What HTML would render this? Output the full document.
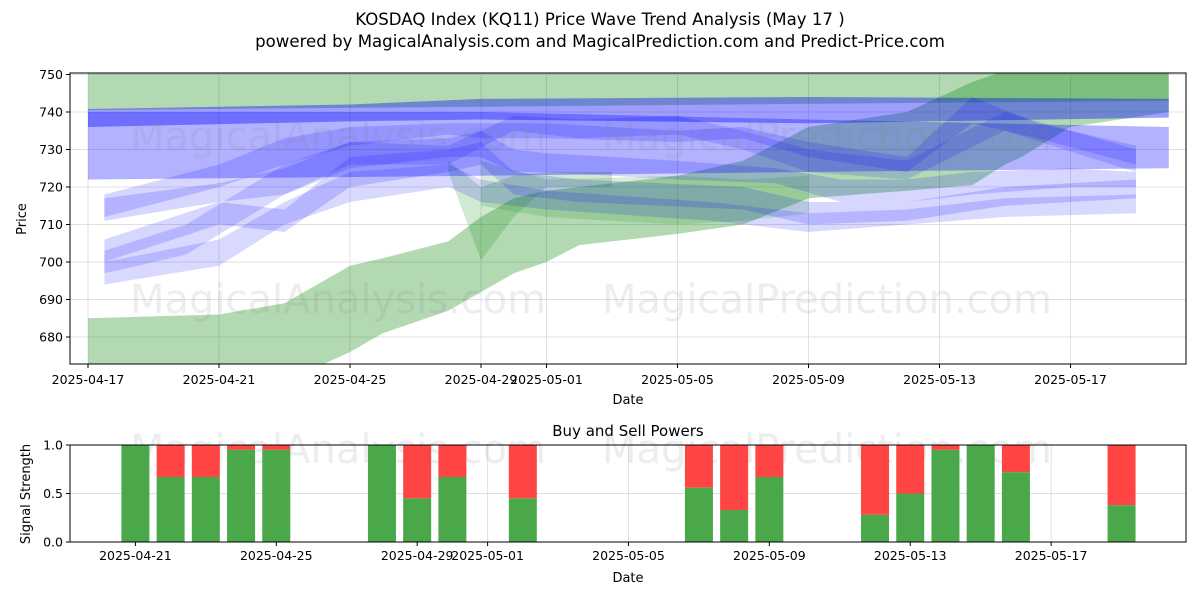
<!DOCTYPE html>
<html><head><meta charset="utf-8"><style>
body{margin:0;background:#fff;font-family:"Liberation Sans","DejaVu Sans",sans-serif}
svg text{font-family:"DejaVu Sans","Liberation Sans",sans-serif}
</style></head><body>
<svg id="c" width="1200" height="600" xmlns="http://www.w3.org/2000/svg">
<rect width="1200" height="600" fill="#fff"/>
<text x="600" y="25" text-anchor="middle" font-size="16.6">KOSDAQ Index (KQ11) Price Wave Trend Analysis (May 17 )</text>
<text x="600" y="47" text-anchor="middle" font-size="16.6">powered by MagicalAnalysis.com and MagicalPrediction.com and Predict-Price.com</text>
<defs><clipPath id="ct"><rect x="70" y="73" width="1116" height="291"/></clipPath></defs>
<g id="topg"></g><g id="botg"></g>
</svg>
<script>
// ---- data ----
const priceTicks=[680,690,700,710,720,730,740,750];
const dateTickDays=[0,4,8,12,14,18,22,26,30];
const dateTickLabels=["2025-04-17","2025-04-21","2025-04-25","2025-04-29","2025-05-01","2025-05-05","2025-05-09","2025-05-13","2025-05-17"];
const greenDays=[[0,33],[0,4,6,8,9,11,12,13,14,15,16,18,20,22,25,27,28,28.5,30,33],[11,12,13,14,16],[12,14,18,20,22]];
const greenUpper=[[752,752],[685,686,689,699,701,705.5,712,717,719,720,721,723,727,736,740,748,751,752,752,752],[727,720,723,724,724],[727,722,723,722,723]];
const greenLower=[[740.5,743],[660,660,668,676,681,687,692,697,700,704.5,705.5,707.5,710,717,719,720.5,726,728,736,740],[724,700.5,712,720,720],[715,712,710,711,713]];
const greenAlpha=[0.3,0.3,0.18,0.15];
const blueDays=[[0,8,12,22,33],[0,12,22,33],[0.5,4,6,8,11,12,13,14,18,21,23,25,27,30,32],[0.5,4,6,8,11,12,13,15,20,22,25,28,32],[0.5,4,6,8,11,12,14,19,22,25,28,32],[0.5,4,6,8,11,12,14,18,20,22,25,27,29,32],[0.5,3,6,8,11,13,15,18,20,22,25,28,32]];
const blueUpper=[[740.8,742,743.5,744,743.5],[740,740,738,736],[717,721,725,732,733,735,730,729,727,725,722,722,724,725,724],[706,716,714,728,730,732,724,722,720,716,716,720,722],[700,706,716,724,726,722,719,716,713,714,717,718],[718,726,733,736,737,737,737,735,736,732,728,744,737,731],[703,710,726,732,731,739,738,739,735,730,727,740,730]];
const blueLower=[[736,737.5,738,737,738.5],[722,723,724,725],[711,716,718,725,728,728,724,724,722,721,716,716,718,720,720],[700,710,708,720,724,726,718,716,714,710,711,715,717],[694,699,710,716,720,716,714,711,708,710,712,713],[712,720,726,731,734,733,733,732,733,728,724,737,733,726],[697,702,718,726,726,735,733,734,730,724,722,735,724]];
const blueAlpha=[0.38,0.3,0.16,0.16,0.15,0.16,0.15];
const barDays=[4,5,6,7,8,11,12,13,15,20,21,22,25,26,27,28,29,32];
const buyVals=[1.0,0.67,0.67,0.95,0.95,1.0,0.45,0.67,0.45,0.56,0.33,0.67,0.28,0.5,0.95,1.0,0.72,0.38];
const strengthTicks=[0,0.5,1];
const botTickDays=[4,8,12,14,18,22,26,30];
const botTickLabels=["2025-04-21","2025-04-25","2025-04-29","2025-05-01","2025-05-05","2025-05-09","2025-05-13","2025-05-17"];
// ---- axes ----
const NS="http://www.w3.org/2000/svg";
const T={l:70,r:1186,t:73,b:364},B={l:70,r:1186,t:445,b:542};
const xT=d=>88+d*32.75, yT=v=>337-(v-680)*3.75;
const xB=d=>135.4+(d-4)*35.22, yB=v=>542-v*97;
function el(tag,attrs,parent,txt){const e=document.createElementNS(NS,tag);for(const k in attrs)e.setAttribute(k,attrs[k]);if(txt!==undefined)e.textContent=txt;parent.appendChild(e);return e;}
const topG=document.getElementById('topg'),botG=document.getElementById('botg');
priceTicks.forEach(v=>{el('line',{x1:T.l,x2:T.r,y1:yT(v),y2:yT(v),stroke:'#e0e0e0'},topG);
 const t=el('text',{x:T.l-7,y:yT(v)+4.5,'text-anchor':'end','font-size':12.5},topG,v);
 
 
 el('line',{x1:T.l-4,x2:T.l,y1:yT(v),y2:yT(v),stroke:'#000'},topG);});
dateTickDays.forEach((d,i)=>{el('line',{x1:xT(d),x2:xT(d),y1:T.t,y2:T.b,stroke:'#e0e0e0'},topG);
 el('line',{x1:xT(d),x2:xT(d),y1:T.b,y2:T.b+4,stroke:'#000'},topG);
 const t=el('text',{x:xT(d),y:T.b+20,'text-anchor':'middle','font-size':12.5},topG,dateTickLabels[i]);
 
 });
const g=el('g',{'clip-path':'url(#ct)'},topG);
function band(days,up,lo,fill,op,name){let pts=days.map((d,i)=>xT(d)+','+yT(up[i]));for(let i=days.length-1;i>=0;i--)pts.push(xT(days[i])+','+yT(lo[i]));
 const p=el('polygon',{points:pts.join(' '),fill:fill,'fill-opacity':op},g);
 
 }
greenDays.forEach((d,i)=>band(d,greenUpper[i],greenLower[i],'#008000',greenAlpha[i],'green-wave-band'));
blueDays.forEach((d,i)=>band(d,blueUpper[i],blueLower[i],'#0000ff',blueAlpha[i],'blue-wave-band'));
[[130,150,'MagicalAnalysis.com'],[602,150,'MagicalPrediction.com'],[130,313,'MagicalAnalysis.com'],[602,313,'MagicalPrediction.com']].forEach(w=>{const t=el('text',{x:w[0],y:w[1],'font-size':40,fill:'#888','fill-opacity':0.15},topG,w[2]);
 
 });
el('rect',{x:T.l,y:T.t,width:T.r-T.l,height:T.b-T.t,fill:'none',stroke:'#000'},topG);
let t=el('text',{x:628,y:404,'text-anchor':'middle','font-size':13},topG,'Date');
t=el('text',{x:26,y:219,'text-anchor':'middle','font-size':13,transform:'rotate(-90 26 219)'},topG,'Price');
// bottom
t=el('text',{x:628,y:436,'text-anchor':'middle','font-size':15},botG,'Buy and Sell Powers');
botTickDays.forEach((d,i)=>{el('line',{x1:xB(d),x2:xB(d),y1:B.t,y2:B.b,stroke:'#e0e0e0'},botG);
 el('line',{x1:xB(d),x2:xB(d),y1:B.b,y2:B.b+4,stroke:'#000'},botG);
 const tt=el('text',{x:xB(d),y:B.b+18,'text-anchor':'middle','font-size':12.5},botG,botTickLabels[i]);
 
 });
strengthTicks.forEach(v=>{el('line',{x1:B.l,x2:B.r,y1:yB(v),y2:yB(v),stroke:'#e0e0e0'},botG);
 el('line',{x1:B.l-4,x2:B.l,y1:yB(v),y2:yB(v),stroke:'#000'},botG);
 const tt=el('text',{x:B.l-7,y:yB(v)+4.5,'text-anchor':'end','font-size':12.5},botG,v.toFixed(1));
 
 });
[[130,463,'MagicalAnalysis.com'],[602,463,'MagicalPrediction.com']].forEach(w=>{const tt=el('text',{x:w[0],y:w[1],'font-size':40,fill:'#888','fill-opacity':0.15},botG,w[2]);
 
 });
barDays.forEach((d,i)=>{const x=xB(d)-14,v=buyVals[i];
 const r=el('rect',{x:x,y:yB(1),width:28,height:yB(v)-yB(1),fill:'#ff4444'},botG);
 
 
 const gr=el('rect',{x:x,y:yB(v),width:28,height:yB(0)-yB(v),fill:'#4aa84a'},botG);
 
 });
el('rect',{x:B.l,y:B.t,width:B.r-B.l,height:B.b-B.t,fill:'none',stroke:'#000'},botG);
t=el('text',{x:628,y:582,'text-anchor':'middle','font-size':13},botG,'Date');
t=el('text',{x:30,y:494,'text-anchor':'middle','font-size':13,transform:'rotate(-90 30 494)'},botG,'Signal Strength');
</script>
</body></html>
